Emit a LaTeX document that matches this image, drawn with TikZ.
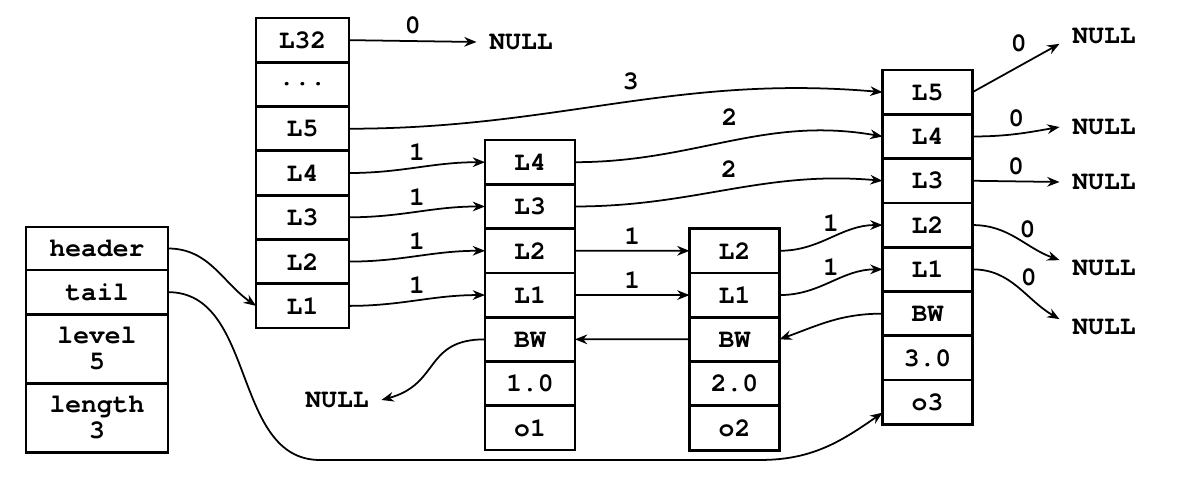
\documentclass[tikz,border=0pt]{standalone}
\usepackage{fontspec}
\setmonofont{TeX Gyre Cursor}
\usetikzlibrary{positioning, arrows.meta}

\newcommand{\cellfont}{\fontsize{15}{15}\selectfont\ttfamily\bfseries}

\tikzset{
  cell/.style={draw, line width=1.6pt, inner sep=0pt, outer sep=0pt,
    minimum height=0.886cm, align=center, font=\cellfont},
  hcell/.style={cell, minimum width=1.86cm},
  ncell/.style={cell, minimum width=1.8cm},
  lcell/.style={cell, minimum width=2.84cm},
  null/.style={font=\cellfont, inner xsep=0.25cm},
  lbl/.style={font=\cellfont, above},
  link/.style={->, line width=1pt},
}

\begin{document}
\begin{tikzpicture}[x=0.02cm, y=0.02cm, >={Stealth[length=7pt,width=5.5pt]}]
    \useasboundingbox (0,0) rectangle (1181,482);

    % List record
    \node[lcell, minimum height=0.86cm] (lhead) at (97,233.5) {header};
    \node[lcell, below=0pt of lhead] (ltail) {tail};
    \node[lcell, minimum height=1.38cm, below=0pt of ltail] (llevel) {level\\5};
    \node[lcell, minimum height=1.38cm, below=0pt of llevel] (llen) {length\\3};

    % Header node
    \node[hcell] (h32) at (302.5,441.85) {L32};
    \node[hcell, below=0pt of h32] (hdots) {...};
    \node[hcell, below=0pt of hdots] (h5) {L5};
    \node[hcell, below=0pt of h5] (h4) {L4};
    \node[hcell, below=0pt of h4] (h3) {L3};
    \node[hcell, below=0pt of h3] (h2) {L2};
    \node[hcell, below=0pt of h2] (h1) {L1};

    % Node o1
    \node[ncell] (a4) at (530,319.8) {L4};
    \node[ncell, below=0pt of a4] (a3) {L3};
    \node[ncell, below=0pt of a3] (a2) {L2};
    \node[ncell, below=0pt of a2] (a1) {L1};
    \node[ncell, below=0pt of a1] (abw) {BW};
    \node[ncell, below=0pt of abw] (ascore) {1.0};
    \node[ncell, below=0pt of ascore] (aobj) {o1};

    % Node o2
    \node[ncell] (b2) at (734.5,231.2) {L2};
    \node[ncell, below=0pt of b2] (b1) {L1};
    \node[ncell, below=0pt of b1] (bbw) {BW};
    \node[ncell, below=0pt of bbw] (bscore) {2.0};
    \node[ncell, below=0pt of bscore] (bobj) {o2};

    % Node o3
    \node[ncell] (c5) at (927.5,389.8) {L5};
    \node[ncell, below=0pt of c5] (c4) {L4};
    \node[ncell, below=0pt of c4] (c3) {L3};
    \node[ncell, below=0pt of c3] (c2) {L2};
    \node[ncell, below=0pt of c2] (c1) {L1};
    \node[ncell, below=0pt of c1] (cbw) {BW};
    \node[ncell, below=0pt of cbw] (cscore) {3.0};
    \node[ncell, below=0pt of cscore] (cobj) {o3};

    % NULLs
    \node[null] (n32) at (521,440) {NULL};
    \node[null] (nbw) at (337,82) {NULL};
    \node[null] (nc5) at (1104,446) {NULL};
    \node[null] (nc4) at (1104,355) {NULL};
    \node[null] (nc3) at (1104,300) {NULL};
    \node[null] (nc2) at (1104,214) {NULL};
    \node[null] (nc1) at (1104,155) {NULL};

    % Forward pointers
    \draw[link] (h32.east) -- node[lbl] {0} (n32.west);
    \draw[link] (h5.east) to[out=0,in=175] node[lbl, pos=0.53, above=3pt] {3} (c5.west);
    \draw[link] (h4.east) to[out=0,in=180] node[lbl] {1} (a4.west);
    \draw[link] (h3.east) to[out=0,in=180] node[lbl] {1} (a3.west);
    \draw[link] (h2.east) to[out=0,in=180] node[lbl] {1} (a2.west);
    \draw[link] (h1.east) to[out=0,in=180] node[lbl] {1} (a1.west);
    \draw[link] (a4.east) to[out=0,in=170] node[lbl, above=5pt] {2} (c4.west);
    \draw[link] (a3.east) to[out=0,in=175] node[lbl, above=3pt] {2} (c3.west);
    \draw[link] (a2.east) -- node[lbl] {1} (b2.west);
    \draw[link] (a1.east) -- node[lbl] {1} (b1.west);
    \draw[link] (b2.east) to[out=0,in=180] node[lbl] {1} (c2.west);
    \draw[link] (b1.east) to[out=0,in=180] node[lbl] {1} (c1.west);

    % Last node to NULL
    \draw[link] (c5.east) -- node[lbl, pos=0.7, above left] {0} (nc5.190);
    \draw[link] (c4.east) to[out=0,in=190] node[lbl] {0} (nc4.west);
    \draw[link] (c3.east) -- node[lbl] {0} (nc3.west);
    \draw[link] (c2.east) to[out=0,in=160] node[lbl, pos=0.45, above right, yshift=-5pt] {0} (nc2.170);
    \draw[link] (c1.east) to[out=0,in=150] node[lbl, pos=0.45, above right, yshift=-5pt] {0} (nc1.170);

    % Backward pointers
    \draw[link] (cbw.west) to[out=180,in=20] (bbw.east);
    \draw[link] (bbw.west) -- (abw.east);
    \draw[link] (abw.west) to[out=180,in=15,looseness=1.3] (nbw.east);

    % header and tail
    \draw[link] (lhead.east) to[out=0,in=145] (h1.west);
    \coordinate (tl) at (320,22);
    \coordinate (tr) at (760,22);
    \draw[link] (ltail.east) to[out=0,in=180] (tl) -- (tr) to[out=0,in=215] (cobj.193);
\end{tikzpicture}
\end{document}
